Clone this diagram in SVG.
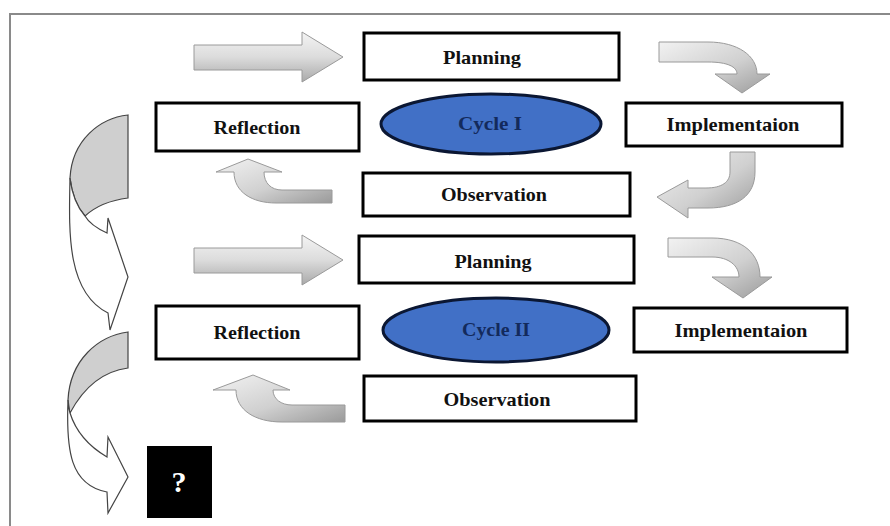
<svg xmlns="http://www.w3.org/2000/svg" width="890" height="526" viewBox="0 0 890 526">
<defs>
<linearGradient id="gv" x1="0" y1="0" x2="0" y2="1">
<stop offset="0" stop-color="#f4f4f4"/><stop offset="0.5" stop-color="#dcdcdc"/><stop offset="1" stop-color="#a9a9a9"/>
</linearGradient>
<linearGradient id="gd" x1="0" y1="0" x2="1" y2="1">
<stop offset="0" stop-color="#f2f2f2"/><stop offset="0.55" stop-color="#d0d0d0"/><stop offset="1" stop-color="#9a9a9a"/>
</linearGradient>
<style>
.box{fill:#fff;stroke:#000;stroke-width:3}
.lbl{font-family:"Liberation Serif",serif;font-weight:bold;font-size:19px;fill:#111;text-anchor:middle}
.cyc{fill:#4170c6;stroke:#0b1733;stroke-width:3}
.ctx{font-family:"Liberation Serif",serif;font-weight:bold;font-size:19px;fill:#132a5c;text-anchor:middle}
.sa{fill:url(#gv);stroke:#9a9a9a;stroke-width:1}
.ca{fill:url(#gd);stroke:#9a9a9a;stroke-width:1}
.bk{fill:#cfcfcf;stroke:#444;stroke-width:1.2}
.wf{fill:#fff;stroke:#444;stroke-width:1.2}
</style>
</defs>
<rect width="890" height="526" fill="#fff"/>
<g id="frame" fill="none" stroke="#8a8a8a" stroke-width="2">
<path d="M10,526 L10,14 L890,14"/>
</g>
<g id="connectors">
<path class="sa" d="M194,45 L302,45 L302,32 L343,57 L302,82 L302,70 L194,70 Z"/>
<path class="sa" d="M194,248 L302,248 L302,235 L343,260 L302,285 L302,273 L194,273 Z"/>
<path class="ca" d="M659,42 L708,42 C738,42 757,56 757,74 L770,74 L742,93 L715,74 L737,74 C737,67 728,62 708,62 L659,62 Z"/>
<path class="ca" d="M668,238 L712,238 C744,238 760,255 760,277 L772,277 L743,298 L712,277 L739,277 C739,266 729,257 712,257 L668,257 Z"/>
<path class="ca" d="M730,152 L755,152 L755,172 C755,196 737,208 708,208 L688,208 L688,218 L657,197 L688,180 L688,188 L706,188 C722,188 730,182 730,172 Z"/>
<path class="ca" d="M332,190 L282,190 C271,190 264,183 264,172 L282,172 L248,159 L216,172 L234,172 C234,192 252,203 276,203 L332,203 Z"/>
<path class="ca" d="M345,405 L292,405 C281,405 273,399 273,390 L290,390 L253,375 L213,390 L236,390 C236,410 255,422 282,422 L345,422 Z"/>
<path class="bk" d="M128,115 C100,118 72,140 70,178 C72,195 77,207 85,216 C97,205 112,200 128,198 Z"/>
<path class="wf" d="M70,178 C69,230 66,292 108,313 L110,330 L128,277 L108,218 L107,233 C96,228 89,223 85,216 C77,207 72,195 70,178 Z"/>
<path class="bk" d="M128,332 C98,336 70,360 68,400 C69,406 69,410 70,413 C85,385 105,371 128,368 Z"/>
<path class="wf" d="M68,400 C66,450 70,485 107,492 L108,513 L128,477 L108,437 L107,457 C90,447 76,432 70,413 C69,410 68,406 68,400 Z"/>
</g>
<g id="planning1"><rect class="box" x="364" y="33" width="255" height="47"/><text class="lbl" x="482" y="64" textLength="78" lengthAdjust="spacingAndGlyphs">Planning</text></g>
<g id="reflection1"><rect class="box" x="156" y="103" width="203" height="48"/><text class="lbl" x="257" y="134" textLength="87" lengthAdjust="spacingAndGlyphs">Reflection</text></g>
<g id="cycle1"><ellipse class="cyc" cx="491" cy="124" rx="110" ry="30"/><text class="ctx" x="490" y="130" textLength="64" lengthAdjust="spacingAndGlyphs">Cycle I</text></g>
<g id="implementation1"><rect class="box" x="626" y="103" width="216" height="43"/><text class="lbl" x="733" y="131" textLength="133" lengthAdjust="spacingAndGlyphs">Implementaion</text></g>
<g id="observation1"><rect class="box" x="363" y="173" width="267" height="43"/><text class="lbl" x="494" y="201" textLength="106" lengthAdjust="spacingAndGlyphs">Observation</text></g>
<g id="planning2"><rect class="box" x="359" y="236" width="275" height="47"/><text class="lbl" x="493" y="268" textLength="77" lengthAdjust="spacingAndGlyphs">Planning</text></g>
<g id="reflection2"><rect class="box" x="156" y="306" width="203" height="53"/><text class="lbl" x="257" y="339" textLength="87" lengthAdjust="spacingAndGlyphs">Reflection</text></g>
<g id="cycle2"><ellipse class="cyc" cx="496" cy="330" rx="113" ry="32"/><text class="ctx" x="496" y="336" textLength="68" lengthAdjust="spacingAndGlyphs">Cycle II</text></g>
<g id="implementation2"><rect class="box" x="634" y="308" width="213" height="44"/><text class="lbl" x="741" y="337" textLength="133" lengthAdjust="spacingAndGlyphs">Implementaion</text></g>
<g id="observation2"><rect class="box" x="364" y="376" width="272" height="45"/><text class="lbl" x="497" y="406" textLength="107" lengthAdjust="spacingAndGlyphs">Observation</text></g>
<g id="question"><rect x="147" y="446" width="65" height="72" fill="#000"/><text x="179" y="492" font-family="Liberation Serif,serif" font-weight="bold" font-size="30" fill="#fff" text-anchor="middle">?</text></g>
</svg>
